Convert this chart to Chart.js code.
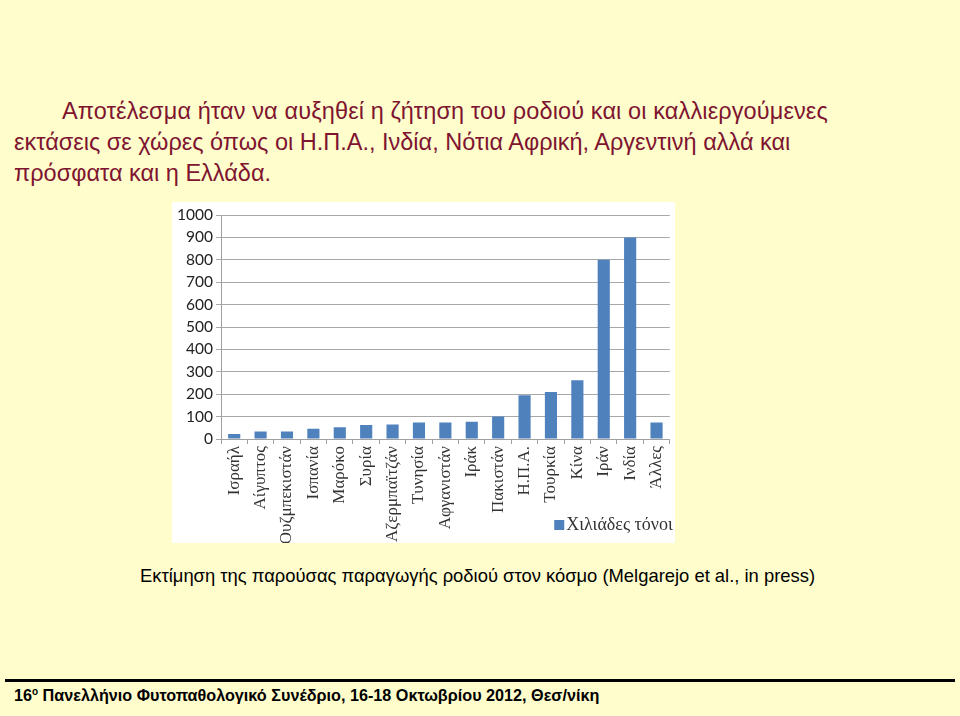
<!DOCTYPE html>
<html><head><meta charset="utf-8">
<script src="https://cdn.jsdelivr.net/npm/chart.js@4/dist/chart.umd.min.js"></script>
<style>
html,body{margin:0;padding:0;}
body{width:960px;height:716px;background:#FFFDCC;position:relative;overflow:hidden;font-family:"Liberation Sans",Arial,sans-serif;}
#title{position:absolute;left:14px;top:96px;width:940px;color:#7E1430;font-size:23.5px;line-height:31px;white-space:nowrap;}
#title .l1{padding-left:48px;letter-spacing:0.12px;}
#box{position:absolute;left:172px;top:202px;width:503px;height:341px;background:#fff;}
#c{position:absolute;left:172px;top:202px;}
#caption{position:absolute;left:0;width:955px;top:565px;text-align:center;font-size:18.4px;color:#000;white-space:nowrap;}
#rule{position:absolute;left:5px;width:950px;top:679px;height:3px;background:#000;}
#footer{position:absolute;left:14px;top:686px;font-size:16.2px;font-weight:bold;color:#000;white-space:nowrap;}
#footer sup{font-size:10px;}
</style></head>
<body>
<div id="title"><div class="l1">Αποτέλεσμα ήταν να αυξηθεί η ζήτηση του ροδιού και οι καλλιεργούμενες</div><div>εκτάσεις σε χώρες όπως οι Η.Π.Α., Ινδία, Νότια Αφρική, Αργεντινή αλλά και</div><div>πρόσφατα και η Ελλάδα.</div></div>
<div id="box"></div>
<canvas id="c" width="507" height="341"></canvas>
<div id="caption">Εκτίμηση της παρούσας παραγωγής ροδιού στον κόσμο (Melgarejo et al., in press)</div>
<div id="rule"></div>
<div id="footer">16<sup>ο</sup> Πανελλήνιο Φυτοπαθολογικό Συνέδριο, 16-18 Οκτωβρίου 2012, Θεσ/νίκη</div>
<script>
const categories = ["Ισραήλ","Αίγυπτος","Ουζμπεκιστάν","Ισπανία","Μαρόκο","Συρία","Αζερμπαϊτζάν","Τυνησία","Αφγανιστάν","Ιράκ","Πακιστάν","Η.Π.Α.","Τουρκία","Κίνα","Ιράν","Ινδία","Άλλες"];
const production = [22,33,33,46,52,62,65,74,74,77,100,195,210,262,800,900,74];
const seriesLabel = "Χιλιάδες τόνοι";
const yTicks = {min:0,max:1000,step:100};

const legendPlugin = {
  id:'customLegend',
  afterDraw(chart){
    const ctx = chart.ctx;
    const ds = chart.data.datasets[0];
    ctx.save();
    ctx.font = '18px "Liberation Serif", serif';
    ctx.fillStyle = '#333';
    ctx.textBaseline = 'middle';
    const tw = ctx.measureText(ds.label).width;
    const x = chart.chartArea.right + 3 - tw;
    const y = 323;
    ctx.fillText(ds.label, x, y);
    ctx.fillStyle = ds.backgroundColor;
    ctx.fillRect(x - 12, y - 5, 10, 10);
    ctx.restore();
  }
};

new Chart(document.getElementById('c'), {
  type:'bar',
  data:{labels:categories,datasets:[{label:seriesLabel,data:production,backgroundColor:'#4F81BD',barPercentage:0.46,categoryPercentage:1}]},
  options:{
    responsive:false,animation:false,
    layout:{padding:{top:13,right:2,left:0,bottom:0}},
    plugins:{legend:{display:false},tooltip:{enabled:false}},
    scales:{
      x:{
        offset:true,
        grid:{offset:true,drawOnChartArea:false,drawTicks:true,tickLength:5,color:'#A0A0A0'},
        border:{color:'#A0A0A0'},
        ticks:{maxRotation:90,minRotation:90,autoSkip:false,color:'#333',padding:2,font:{family:'"Liberation Serif", serif',size:17}},
        afterFit(s){s.height=104;}
      },
      y:{
        min:yTicks.min,max:yTicks.max,
        grid:{color:'#A8A8A8',tickLength:5},
        border:{color:'#A0A0A0'},
        ticks:{stepSize:yTicks.step,color:'#222',padding:3,font:{family:'Lato, sans-serif',size:15.5},callback:(v)=>String(v)},
        afterFit(s){s.width=49;}
      }
    }
  },
  plugins:[legendPlugin]
});
</script>
</body></html>
